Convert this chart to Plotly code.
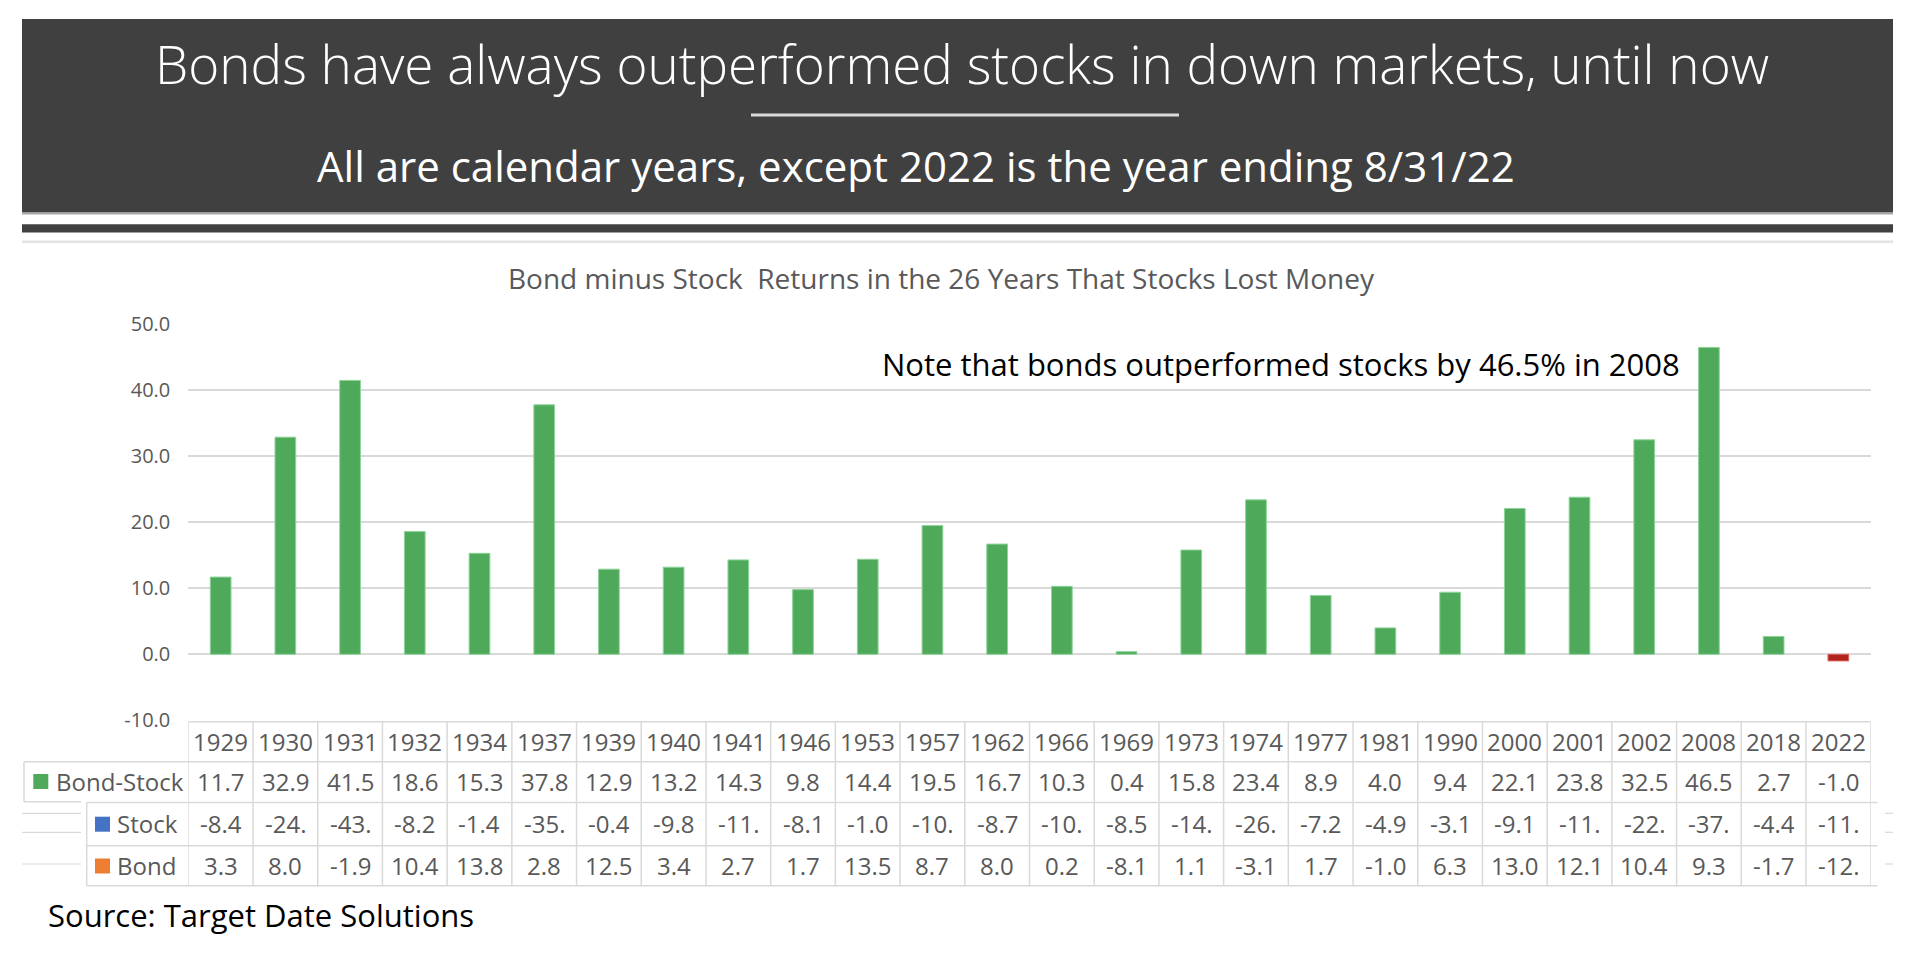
import plotly.graph_objects as go

# ---------------- data ----------------
years = ["1929", "1930", "1931", "1932", "1934", "1937", "1939", "1940", "1941", "1946",
         "1953", "1957", "1962", "1966", "1969", "1973", "1974", "1977", "1981", "1990",
         "2000", "2001", "2002", "2008", "2018", "2022"]
bond_minus_stock = [11.7, 32.9, 41.5, 18.6, 15.3, 37.8, 12.9, 13.2, 14.3, 9.8,
                    14.4, 19.5, 16.7, 10.3, 0.4, 15.8, 23.4, 8.9, 4.0, 9.4,
                    22.1, 23.8, 32.5, 46.5, 2.7, -1.0]
stock = [-8.4, -24.9, -43.4, -8.2, -1.4, -35.0, -0.4, -9.8, -11.6, -8.1,
         -1.0, -10.8, -8.7, -10.1, -8.5, -14.7, -26.5, -7.2, -4.9, -3.1,
         -9.1, -11.7, -22.1, -37.2, -4.4, -11.2]
bond = [3.3, 8.0, -1.9, 10.4, 13.8, 2.8, 12.5, 3.4, 2.7, 1.7,
        13.5, 8.7, 8.0, 0.2, -8.1, 1.1, -3.1, 1.7, -1.0, 6.3,
        13.0, 12.1, 10.4, 9.3, -1.7, -12.2]
y_ticks = [-10, 0, 10, 20, 30, 40, 50]

title = "Bonds have always outperformed stocks in down markets, until now"
subtitle = "All are calendar years, except 2022 is the year ending 8/31/22"
chart_title = "Bond minus Stock  Returns in the 26 Years That Stocks Lost Money"
note = "Note that bonds outperformed stocks by 46.5% in 2008"
source = "Source: Target Date Solutions"

# ---------------- styling ----------------
W, H = 1908, 960
FONT = "Open Sans"
DARK = "#404040"
GREY_TXT = "#595959"
GRID = "#d9d9d9"
GREEN = "#4eaa5a"
RED = "#b2231b"
BLUE = "#4472c4"
ORANGE = "#ed7d31"


def px(x):
    return x / W


def py(y):
    return 1 - y / H


def cell(v):
    s = f"{v:.1f}"
    return s[:4] if len(s) > 4 else s


n = len(years)
idx = list(range(n))

fig = go.Figure()
fig.add_trace(go.Bar(
    x=idx, y=bond_minus_stock,
    marker=dict(color=[GREEN if v >= 0 else RED for v in bond_minus_stock],
                line=dict(color=["#8ed39a" if v >= 0 else "#d9655e" for v in bond_minus_stock], width=1)),
    width=0.32, hoverinfo="skip", showlegend=False,
))

shapes = []
ann = []

# header block
shapes.append(dict(type="rect", xref="paper", yref="paper", x0=px(22), x1=px(1893), y0=py(212.5), y1=py(19),
                   fillcolor=DARK, line=dict(width=0), layer="below"))
shapes.append(dict(type="line", xref="paper", yref="paper", x0=px(22), x1=px(1893), y0=py(213.8), y1=py(213.8),
                   line=dict(color="#a6a6a6", width=1.5)))
shapes.append(dict(type="line", xref="paper", yref="paper", x0=px(751), x1=px(1179), y0=py(115), y1=py(115),
                   line=dict(color="#d9d9d9", width=3)))
shapes.append(dict(type="rect", xref="paper", yref="paper", x0=px(22), x1=px(1893), y0=py(232.5), y1=py(224.3),
                   fillcolor=DARK, line=dict(width=0)))
shapes.append(dict(type="line", xref="paper", yref="paper", x0=px(22), x1=px(1893), y0=py(241.8), y1=py(241.8),
                   line=dict(color="#e3e3e3", width=2.5)))

ann.append(dict(text=title, xref="paper", yref="paper", x=px(962), y=py(64), showarrow=False,
                xanchor="center", yanchor="middle",
                font=dict(family=FONT, size=53, color="white", weight=300)))
ann.append(dict(text=subtitle, xref="paper", yref="paper", x=px(916), y=py(166), showarrow=False,
                xanchor="center", yanchor="middle",
                font=dict(family=FONT, size=42, color="white")))
ann.append(dict(text=chart_title, xref="paper", yref="paper", x=px(941), y=py(278), showarrow=False,
                xanchor="center", yanchor="middle",
                font=dict(family=FONT, size=28, color=GREY_TXT)))
ann.append(dict(text=note, xref="paper", yref="paper", x=px(1281), y=py(364), showarrow=False,
                xanchor="center", yanchor="middle",
                font=dict(family=FONT, size=31, color="black")))
ann.append(dict(text=source, xref="paper", yref="paper", x=px(46), y=py(915), showarrow=False,
                xanchor="left", yanchor="middle",
                font=dict(family=FONT, size=31, color="black")))

# ---------------- data table ----------------
LC = dict(color=GRID, width=1.5)
T_TOP, R1, R2, R3, R4 = 721.7, 761.7, 801.7, 845.7, 885.7
R2b = 802.6
# header + Bond-Stock rows (aligned with main x axis)
for i in range(n + 1):
    shapes.append(dict(type="line", xref="x", yref="paper", x0=i - 0.5, x1=i - 0.5,
                       y0=py(T_TOP), y1=py(R2), line=LC))
shapes.append(dict(type="line", xref="x", yref="paper", x0=-0.5, x1=n - 0.5,
                   y0=py(T_TOP), y1=py(T_TOP), line=LC))
shapes.append(dict(type="line", xref="paper", yref="paper", x0=px(24), x1=px(1870.7),
                   y0=py(R1), y1=py(R1), line=LC))
shapes.append(dict(type="line", xref="paper", yref="paper", x0=px(24), x1=px(24),
                   y0=py(R1), y1=py(R2), line=LC))
shapes.append(dict(type="line", xref="paper", yref="paper", x0=px(24), x1=px(81),
                   y0=py(R2), y1=py(R2), line=LC))
# Stock + Bond rows (slightly shifted x2 axis)
for i in range(n + 1):
    shapes.append(dict(type="line", xref="x2", yref="paper", x0=i - 0.5, x1=i - 0.5,
                       y0=py(R2b), y1=py(R4), line=LC))
for yy in (R2b, R3, R4):
    shapes.append(dict(type="line", xref="paper", yref="paper", x0=px(86.7), x1=px(1877.7),
                       y0=py(yy), y1=py(yy), line=LC))
shapes.append(dict(type="line", xref="paper", yref="paper", x0=px(86.7), x1=px(86.7),
                   y0=py(R2b), y1=py(R4), line=LC))
# legend stubs
for yy in (813.3, 832.3, 864):
    shapes.append(dict(type="line", xref="paper", yref="paper", x0=px(22), x1=px(81),
                       y0=py(yy), y1=py(yy), line=dict(color=GRID, width=1.2)))
    shapes.append(dict(type="line", xref="paper", yref="paper", x0=px(1885), x1=px(1893),
                       y0=py(yy), y1=py(yy), line=dict(color=GRID, width=1.2)))

# legend keys
for (x0, y0, col) in ((33.3, 774, GREEN), (95, 816.7, BLUE), (95, 858.5, ORANGE)):
    shapes.append(dict(type="rect", xref="paper", yref="paper", x0=px(x0), x1=px(x0 + 15),
                       y0=py(y0 + 15), y1=py(y0), fillcolor=col, line=dict(width=0)))

TF = dict(family=FONT, size=24, color=GREY_TXT)
for lab, x0, yc in (("Bond-Stock", 54, 781.5), ("Stock", 115, 823.5), ("Bond", 115, 865.5)):
    ann.append(dict(text=lab, xref="paper", yref="paper", x=px(x0), y=py(yc), showarrow=False,
                    xanchor="left", yanchor="middle", font=TF))

for i in range(n):
    ann.append(dict(text=years[i], xref="x", yref="paper", x=i, y=py(741.7), showarrow=False,
                    xanchor="center", yanchor="middle", font=TF))
    ann.append(dict(text=cell(bond_minus_stock[i]), xref="x", yref="paper", x=i, y=py(781.7), showarrow=False,
                    xanchor="center", yanchor="middle", font=TF))
    ann.append(dict(text=cell(stock[i]), xref="x2", yref="paper", x=i, y=py(823.5), showarrow=False,
                    xanchor="center", yanchor="middle", font=TF))
    ann.append(dict(text=cell(bond[i]), xref="x2", yref="paper", x=i, y=py(865.5), showarrow=False,
                    xanchor="center", yanchor="middle", font=TF))

fig.update_layout(
    width=W, height=H, autosize=False,
    margin=dict(l=0, r=0, t=0, b=0, pad=0, autoexpand=False),
    paper_bgcolor="white", plot_bgcolor="white",
    bargap=0.68, showlegend=False,
    xaxis=dict(domain=[px(188.3), px(1870.7)], range=[-0.5, n - 0.5], showticklabels=False,
               showgrid=False, zeroline=False, showline=False, ticks="", automargin=False),
    xaxis2=dict(domain=[px(181.7), px(1877.7)], range=[-0.5, n - 0.5], overlaying="x",
                visible=False, anchor="y", automargin=False),
    yaxis=dict(domain=[py(720.3), py(324.3)], range=[-10, 50],
               tickmode="array", tickvals=y_ticks, ticktext=[f"{v:.1f}" for v in y_ticks],
               showgrid=True, gridcolor=GRID, gridwidth=2,
               zeroline=False, showline=False, ticks="", ticklabelstandoff=17, automargin=False,
               tickfont=dict(family=FONT, size=20, color=GREY_TXT)),
    shapes=shapes,
    annotations=ann,
    font=dict(family=FONT),
)

fig.write_html("out.html", config={"displayModeBar": False},
               post_script="document.body.style.margin='0px';document.body.style.overflow='hidden';")
